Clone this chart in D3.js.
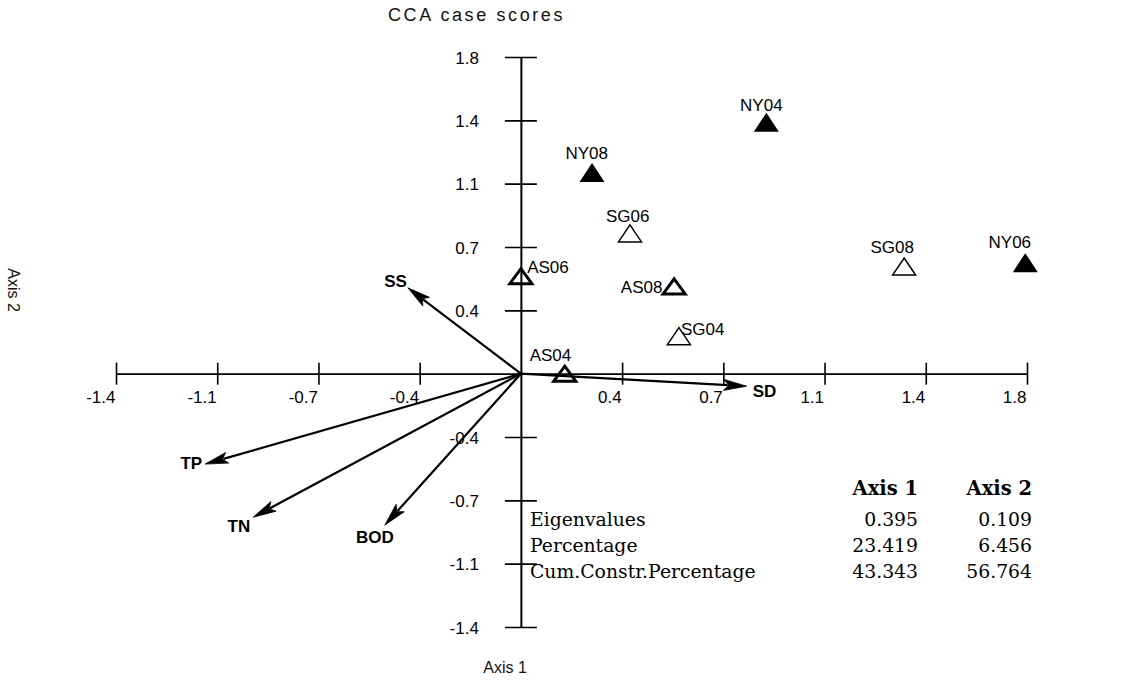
<!DOCTYPE html>
<html>
<head>
<meta charset="utf-8">
<script src="https://cdn.jsdelivr.net/npm/d3@7"></script>
<style>
  html, body { margin: 0; padding: 0; background: #fff; }
  svg { display: block; }
</style>
</head>
<body>
<svg id="chart" width="1122" height="680"></svg>
<script>
// ---------------- data ----------------
const sampleNames = ["NY04", "NY06", "NY08", "SG04", "SG06", "SG08", "AS04", "AS06", "AS08"];
const sampleGroup = ["NY", "NY", "NY", "SG", "SG", "SG", "AS", "AS", "AS"];
const sampleAxis1 = [0.873, 1.794, 0.253, 0.562, 0.388, 1.363, 0.156, 0.000, 0.545];
const sampleAxis2 = [1.429, 0.631, 1.144, 0.213, 0.797, 0.609, 0.000, 0.554, 0.496];

const envNames = ["SS", "SD", "TP", "TN", "BOD"];
const envAxis1 = [-0.402, 0.803, -1.123, -0.952, -0.484];
const envAxis2 = [0.488, -0.071, -0.514, -0.816, -0.861];

const tickValues = [-1.44, -1.08, -0.72, -0.36, 0.36, 0.72, 1.08, 1.44, 1.8];
const tickLabels = ["-1.4", "-1.1", "-0.7", "-0.4", "0.4", "0.7", "1.1", "1.4", "1.8"];

const statRows = ["Eigenvalues", "Percentage", "Cum.Constr.Percentage"];
const statHeaders = ["Axis 1", "Axis 2"];
const statAxis1 = ["0.395", "23.419", "43.343"];
const statAxis2 = ["0.109", "6.456", "56.764"];

const titleText = "CCA case scores";
const xTitle = "Axis 1";
const yTitle = "Axis 2";

// ---------------- layout / style ----------------
const svg = d3.select("#chart");
const x = d3.scaleLinear().domain([-1.44, 1.8]).range([116, 1027]);
const y = d3.scaleLinear().domain([-1.44, 1.8]).range([627, 57]);
const x0 = x(0), y0 = y(0);

const sansFont = "'Liberation Sans', Arial, sans-serif";
const serifFont = "'DejaVu Serif', serif";

// label placement relative to each marker (dx, dy to baseline, anchor)
const labelLayout = {
  NY04: [-5, -11.5, "middle"], NY06: [-15.5, -14.8, "middle"], NY08: [-5.3, -13, "middle"],
  SG04: [2, -1, "start"], SG06: [-2.3, -11.6, "middle"], SG08: [-12, -13.6, "middle"],
  AS04: [-14.3, -12.8, "middle"], AS06: [6.3, -3.7, "start"], AS08: [-11.7, 6.4, "end"]
};
const envLabelLayout = {
  SS: [-1, -0.7, "end"], SD: [6, 10.7, "start"], TP: [-3, 5, "end"],
  TN: [-3, 15, "end"], BOD: [-10, 18, "middle"]
};
const markerStyle = {
  NY: { path: "M0,-9.5L12.5,9.5L-12.5,9.5Z", fill: "#000", stroke: "none", sw: 0 },
  SG: { path: "M0,-8.5L11.5,8.5L-11.5,8.5Z", fill: "none", stroke: "#000", sw: 1.5 },
  AS: { path: "M0,-7.5L11,7.5L-11,7.5Z", fill: "none", stroke: "#000", sw: 3 }
};

// ---------------- title ----------------
svg.append("text")
  .attr("x", 388).attr("y", 21)
  .attr("font-family", sansFont).attr("font-size", 18)
  .attr("letter-spacing", "2.6px")
  .attr("fill", "#111")
  .text(titleText);

// ---------------- axes ----------------
const xAxis = d3.axisBottom(x).tickValues(tickValues)
  .tickFormat((d, i) => tickLabels[i]).tickSizeOuter(0);
const gx = svg.append("g").attr("transform", `translate(0,${y0})`).call(xAxis);
gx.select(".domain").attr("stroke", "#000").attr("stroke-width", 1.6);
gx.selectAll(".tick line").attr("y1", -11).attr("y2", 11)
  .attr("stroke", "#000").attr("stroke-width", 1.6);
gx.selectAll(".tick text")
  .attr("x", -1).attr("y", 29).attr("dy", null)
  .attr("text-anchor", "end")
  .attr("font-family", sansFont).attr("font-size", 17).attr("fill", "#000");

const yAxis = d3.axisLeft(y).tickValues(tickValues)
  .tickFormat((d, i) => tickLabels[i]).tickSizeOuter(0);
const gy = svg.append("g").attr("transform", `translate(${x0},0)`).call(yAxis);
gy.select(".domain").attr("stroke", "#000").attr("stroke-width", 2);
gy.selectAll(".tick line").attr("x1", -16).attr("x2", 16)
  .attr("stroke", "#000").attr("stroke-width", 1.6);
gy.selectAll(".tick text")
  .attr("x", -42).attr("dy", "0.36em")
  .attr("text-anchor", "end")
  .attr("font-family", sansFont).attr("font-size", 17).attr("fill", "#000");

// axis titles
svg.append("text")
  .attr("x", 505).attr("y", 673)
  .attr("text-anchor", "middle")
  .attr("font-family", sansFont).attr("font-size", 16).attr("fill", "#111")
  .text(xTitle);
svg.append("text")
  .attr("transform", "translate(8,290) rotate(90)")
  .attr("text-anchor", "middle")
  .attr("font-family", sansFont).attr("font-size", 16).attr("fill", "#111")
  .text(yTitle);

// ---------------- environmental arrows ----------------
const envData = envNames.map((n, i) => ({ name: n, a1: envAxis1[i], a2: envAxis2[i] }));
const headLen = 23, headHalf = 5.5;
const envG = svg.append("g");
envData.forEach(d => {
  const tx = x(d.a1), ty = y(d.a2);
  const dx = tx - x0, dy = ty - y0;
  const len = Math.hypot(dx, dy);
  const ux = dx / len, uy = dy / len;
  const bx = tx - ux * headLen, by = ty - uy * headLen;
  envG.append("line")
    .attr("x1", x0).attr("y1", y0).attr("x2", bx + ux * 4).attr("y2", by + uy * 4)
    .attr("stroke", "#000").attr("stroke-width", 2.2);
  envG.append("path")
    .attr("d", `M${tx},${ty}L${bx - uy * headHalf},${by + ux * headHalf}L${bx + ux * 5},${by + uy * 5}L${bx + uy * headHalf},${by - ux * headHalf}Z`)
    .attr("fill", "#000").attr("stroke", "#000").attr("stroke-width", 0.8)
    .attr("stroke-linejoin", "round");
  const lay = envLabelLayout[d.name];
  envG.append("text")
    .attr("x", tx + lay[0]).attr("y", ty + lay[1])
    .attr("text-anchor", lay[2])
    .attr("font-family", sansFont).attr("font-size", 17).attr("font-weight", "bold")
    .attr("fill", "#000")
    .text(d.name);
});

// ---------------- sample points ----------------
const samples = sampleNames.map((n, i) => ({ name: n, group: sampleGroup[i], a1: sampleAxis1[i], a2: sampleAxis2[i] }));
const ptG = svg.append("g");
ptG.selectAll("path.pt").data(samples).join("path")
  .attr("class", "pt")
  .attr("transform", d => `translate(${x(d.a1)},${y(d.a2)})`)
  .attr("d", d => markerStyle[d.group].path)
  .attr("fill", d => markerStyle[d.group].fill)
  .attr("stroke", d => markerStyle[d.group].stroke)
  .attr("stroke-width", d => markerStyle[d.group].sw)
  .attr("stroke-linejoin", "miter");
ptG.selectAll("text.lbl").data(samples).join("text")
  .attr("class", "lbl")
  .attr("x", d => x(d.a1) + labelLayout[d.name][0])
  .attr("y", d => y(d.a2) + labelLayout[d.name][1])
  .attr("text-anchor", d => labelLayout[d.name][2])
  .attr("font-family", sansFont).attr("font-size", 17).attr("fill", "#000")
  .text(d => d.name);

// ---------------- statistics table ----------------
const tbl = svg.append("g");
const colRight = [918, 1032];
tbl.selectAll("text.hdr").data(statHeaders).join("text")
  .attr("class", "hdr")
  .attr("x", (d, i) => colRight[i]).attr("y", 495)
  .attr("text-anchor", "end")
  .attr("font-family", serifFont).attr("font-size", 19.5).attr("font-weight", "bold")
  .attr("fill", "#000").text(d => d);
const rowY = [526, 552, 578];
tbl.selectAll("text.row").data(statRows).join("text")
  .attr("class", "row")
  .attr("x", 530).attr("y", (d, i) => rowY[i])
  .attr("font-family", serifFont).attr("font-size", 18.8).attr("fill", "#000")
  .text(d => d);
tbl.selectAll("text.c1").data(statAxis1).join("text")
  .attr("class", "c1")
  .attr("x", colRight[0]).attr("y", (d, i) => rowY[i])
  .attr("text-anchor", "end")
  .attr("font-family", serifFont).attr("font-size", 18.8).attr("fill", "#000")
  .text(d => d);
tbl.selectAll("text.c2").data(statAxis2).join("text")
  .attr("class", "c2")
  .attr("x", colRight[1]).attr("y", (d, i) => rowY[i])
  .attr("text-anchor", "end")
  .attr("font-family", serifFont).attr("font-size", 18.8).attr("fill", "#000")
  .text(d => d);
</script>
</body>
</html>
